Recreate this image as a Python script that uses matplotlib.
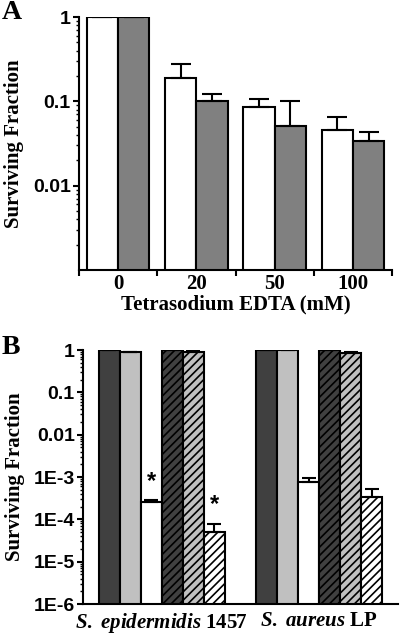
import numpy as np
import matplotlib
matplotlib.use('Agg')
from matplotlib import pyplot as plt
from matplotlib.ticker import LogLocator, NullFormatter

plt.rcParams['hatch.linewidth'] = 1.2
plt.rcParams['mathtext.fontset'] = 'custom'
plt.rcParams['mathtext.it'] = 'Liberation Serif:italic:bold'
plt.rcParams['mathtext.rm'] = 'Liberation Serif:bold'

# panel A data
edta_conc = ['0', '20', '50', '100']
a_white = [1.0, 0.187, 0.085, 0.046]
a_white_err = [0.0, 0.09, 0.021, 0.02]
a_gray = [1.0, 0.1, 0.051, 0.034]
a_gray_err = [0.0, 0.021, 0.049, 0.009]

# panel B data
strains = [r'$\mathit{S.\ epidermidis}$ 1457', r'$\mathit{S.\ aureus}$ LP']
b_vals = [
    [1.0, 1.0],        # dark
    [0.88, 0.98],      # light gray
    [2.5e-4, 7.6e-4],  # white
    [1.0, 1.0],        # dark hatched
    [0.9, 0.86],       # light hatched
    [5.1e-5, 3.4e-4],  # white hatched
]
b_errs = [
    [0.0, 0.0],
    [0.02, 0.01],
    [0.3e-4, 1.8e-4],
    [0.0, 0.0],
    [0.05, 0.03],
    [2.8e-5, 1.8e-4],
]
b_colors = ['#404040', '#c0c0c0', 'white', '#404040', '#c0c0c0', 'white']
b_hatch = [None, None, None, '////', '////', '////']
b_star = [False, False, True, False, False, True]
b_ticklabels = ['1', '0.1', '0.01', '1E-3', '1E-4', '1E-5', '1E-6']

serif = 'Liberation Serif'
sans = 'Liberation Sans'


def style_log_axis(a):
    a.yaxis.set_minor_locator(LogLocator(base=10, subs=np.arange(2, 10)))
    a.yaxis.set_minor_formatter(NullFormatter())
    a.tick_params(axis='y', which='major', length=4, width=1.5, direction='out', pad=2)
    a.tick_params(axis='y', which='minor', length=2, width=1, direction='out')
    for s in ['top', 'right']:
        a.spines[s].set_visible(False)
    for s in ['left', 'bottom']:
        a.spines[s].set_linewidth(1.5)


fig = plt.figure(figsize=(4, 6.35), dpi=100)

# ---- panel A
ax = fig.add_axes([0.1975, 0.5748, 0.7825, 0.3984])
x = np.arange(len(edta_conc))
w = 0.4
ax.bar(x - w / 2, a_white, w, color='white', edgecolor='black', linewidth=1.5,
       yerr=[np.zeros(4), a_white_err], capsize=7,
       error_kw=dict(elinewidth=1.5, capthick=1.5, ecolor='black'))
ax.bar(x + w / 2, a_gray, w, color='#808080', edgecolor='black', linewidth=1.5,
       yerr=[np.zeros(4), a_gray_err], capsize=7,
       error_kw=dict(elinewidth=1.5, capthick=1.5, ecolor='black'))
ax.set_yscale('log')
ax.set_ylim(0.001, 1)
ax.set_xlim(-0.5, 3.5)
ax.set_yticks([1, 0.1, 0.01])
ax.set_yticklabels(['1', '0.1', '0.01'], fontfamily=sans, fontweight='bold', fontsize=14)
ax.set_xticks(np.arange(-0.5, 4, 1))
ax.set_xticklabels([])
ax.set_xticks(x, minor=True)
ax.set_xticklabels(edta_conc, minor=True, fontfamily=serif, fontweight='bold', fontsize=15)
ax.tick_params(axis='x', which='minor', length=0, pad=3)
ax.tick_params(axis='x', which='major', length=4, width=1.5, direction='out')
style_log_axis(ax)
ax.set_ylabel('Surviving Fraction', fontfamily=serif, fontweight='bold', fontsize=15, labelpad=6)
ax.set_xlabel('Tetrasodium EDTA (mM)', fontfamily=serif, fontweight='bold', fontsize=15, labelpad=0)
fig.text(0.005, 1.0, 'A', fontfamily=serif, fontweight='bold', fontsize=20, va='top')

# ---- panel B
bx = fig.add_axes([0.2075, 0.0488, 0.7875, 0.4])
xb = np.arange(len(strains))
bw = 0.8 / len(b_vals)
for i in range(len(b_vals)):
    pos = xb - 0.4 + bw * (i + 0.5)
    bx.bar(pos, b_vals[i], bw, color=b_colors[i], edgecolor='black', linewidth=1.5,
           hatch=b_hatch[i],
           yerr=[np.zeros(2), b_errs[i]], capsize=5,
           error_kw=dict(elinewidth=1.5, capthick=1.5, ecolor='black'))
    if b_star[i]:
        top = b_vals[i][0] + b_errs[i][0]
        bx.text(pos[0], top * 1.5, '*', ha='center', va='bottom', fontsize=17,
                fontfamily=sans, fontweight='bold')
bx.set_yscale('log')
bx.set_ylim(1e-6, 1)
bx.set_xlim(-0.5, 1.5)
bx.set_yticks([10.0 ** -k for k in range(7)])
bx.set_yticklabels(b_ticklabels, fontfamily=sans, fontweight='bold', fontsize=14)
bx.set_xticks(xb)
bx.set_xticklabels(strains, fontfamily=serif, fontweight='bold', fontsize=15)
bx.tick_params(axis='x', length=0, pad=5)
style_log_axis(bx)
bx.set_ylabel('Surviving Fraction', fontfamily=serif, fontweight='bold', fontsize=15, labelpad=6)
fig.text(0.005, 0.472, 'B', fontfamily=serif, fontweight='bold', fontsize=20, va='top')

fig.savefig('out.png', dpi=100)
